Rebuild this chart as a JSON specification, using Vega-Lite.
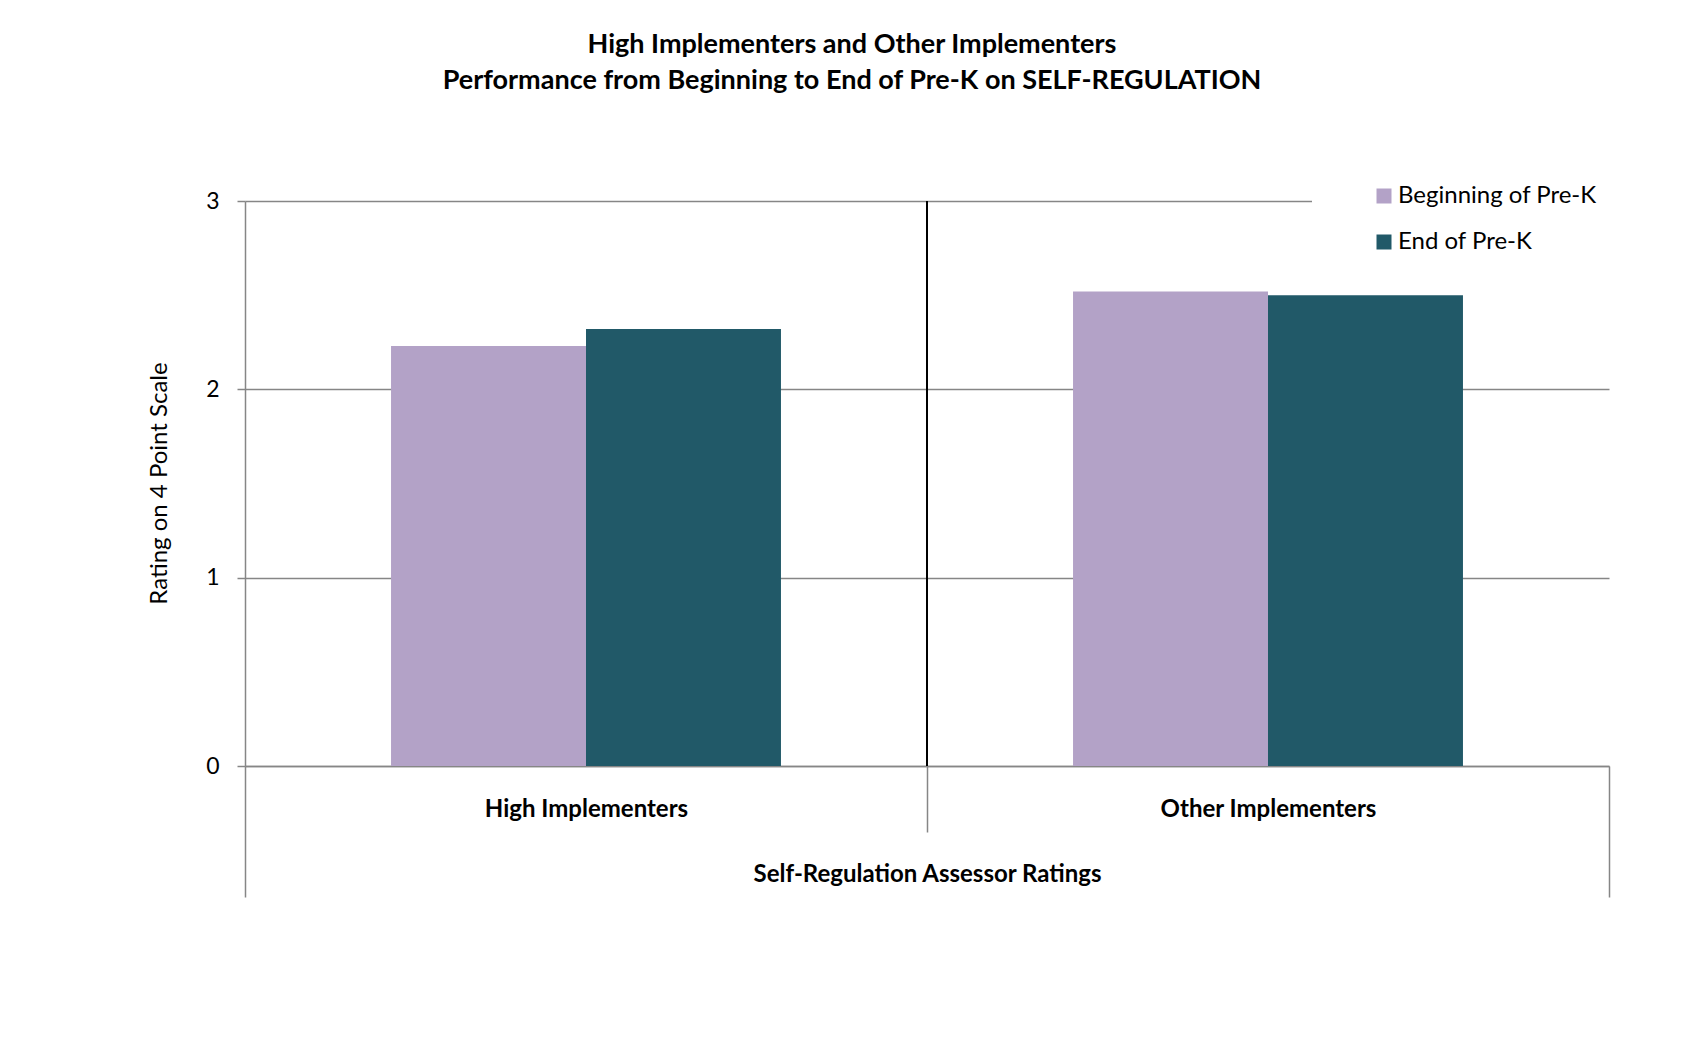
{
  "$schema": "https://vega.github.io/schema/vega-lite/v6.json",
  "width": 1364,
  "height": 565,
  "autosize": {"type": "none"},
  "padding": {"left": 245, "top": 201, "right": 98, "bottom": 296},
  "background": "white",
  "config": {"font": "Lato", "view": {"stroke": null}},
  "title": {
    "text": ["High Implementers and Other Implementers", "Performance from Beginning to End of Pre-K on SELF-REGULATION"],
    "fontSize": 27,
    "fontWeight": "bold",
    "font": "Lato",
    "color": "black",
    "anchor": "middle",
    "dx": -75,
    "offset": 73,
    "lineHeight": 36
  },
  "data": {
    "values": [
      {"group": "High Implementers", "time": "Beginning of Pre-K", "rating": 2.23},
      {"group": "High Implementers", "time": "End of Pre-K", "rating": 2.32},
      {"group": "Other Implementers", "time": "Beginning of Pre-K", "rating": 2.52},
      {"group": "Other Implementers", "time": "End of Pre-K", "rating": 2.50}
    ]
  },
  "layer": [
    {
      "mark": {"type": "bar"},
      "encoding": {
        "x": {
          "field": "group",
          "type": "nominal",
          "sort": ["High Implementers", "Other Implementers"],
          "scale": {"paddingInner": 0, "paddingOuter": 0},
          "title": "Self-Regulation Assessor Ratings",
          "axis": {
            "labelAngle": 0,
            "labelFontSize": 24,
            "labelFontWeight": "bold",
            "labelColor": "black",
            "labelLimit": 0,
            "labelPadding": {"condition": {"test": "datum.value === 'High Implementers'", "value": -35}, "value": -100},
            "tickBand": "extent",
            "tickColor": "#868686",
            "tickWidth": 1.5,
            "domainColor": "#868686",
            "domainWidth": 1.5,
            "tickSize": {"condition": {"test": "datum.value === 'High Implementers'", "value": 66}, "value": 131},
            "titleFontSize": 24,
            "titleFontWeight": "bold",
            "titleColor": "black",
            "titleY": 108,
            "titleBaseline": "middle",
            "grid": false
          }
        },
        "xOffset": {
          "field": "time",
          "sort": ["Beginning of Pre-K", "End of Pre-K"],
          "scale": {"paddingInner": 0, "paddingOuter": 0.749}
        },
        "y": {
          "field": "rating",
          "type": "quantitative",
          "scale": {"domain": [0, 3], "nice": false},
          "axis": {
            "values": [0, 1, 2, 3],
            "title": "Rating on 4 Point Scale",
            "grid": true,
            "gridColor": "#868686",
            "gridWidth": 1.5,
            "domainColor": "#868686",
            "domainWidth": 1.5,
            "tickColor": "#868686",
            "tickWidth": 1.5,
            "tickSize": 8,
            "labelPadding": 18,
            "labelFontSize": 23,
            "labelColor": "black",
            "titleFontSize": 24,
            "titleFontWeight": "normal",
            "titleColor": "black",
            "titleX": -86,
            "titleY": 282,
            "titleBaseline": "middle"
          }
        },
        "color": {
          "field": "time",
          "type": "nominal",
          "scale": {"domain": ["Beginning of Pre-K", "End of Pre-K"], "range": ["#B3A2C7", "#215968"]},
          "legend": {
            "title": null,
            "orient": "none",
            "legendX": 1067,
            "legendY": -33,
            "symbolType": "square",
            "symbolSize": 225,
            "symbolStrokeWidth": 0,
            "symbolOpacity": 1,
            "labelFontSize": 24,
            "labelColor": "black",
            "labelLimit": 0,
            "fillColor": "white",
            "padding": 16,
            "symbolOffset": 44,
            "rowPadding": 22,
            "labelOffset": 2
          }
        }
      }
    },
    {
      "data": {"values": [{"divider": "Other Implementers"}]},
      "mark": {"type": "rule", "color": "black", "strokeWidth": 2},
      "encoding": {
        "x": {"field": "divider", "type": "nominal", "bandPosition": 0, "title": "Self-Regulation Assessor Ratings"}
      }
    }
  ]
}
